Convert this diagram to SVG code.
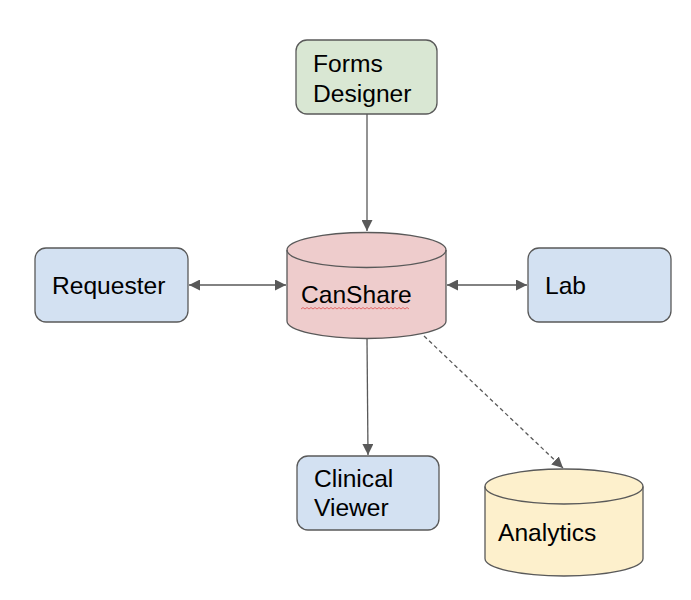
<svg xmlns="http://www.w3.org/2000/svg" width="691" height="600" viewBox="0 0 691 600">
<style>
.box{stroke:#595959;stroke-width:1.3}
.blue{fill:#d3e1f2}
.green{fill:#d9e7d3}
.pink{fill:#eecccc}
.yellow{fill:#fdf0cc}
.lbl{font-family:"Liberation Sans",Arial,sans-serif;font-size:24.6px;fill:#000}
.conn{stroke:#595959;stroke-width:1.3;fill:none}
</style>
<defs>
<marker id="ah" viewBox="0 0 10 10" refX="10" refY="5" markerWidth="11" markerHeight="11" markerUnits="userSpaceOnUse" orient="auto-start-reverse">
<path d="M0,0 L10,5 L0,10 Z" fill="#595959"/>
</marker>
</defs>
<rect width="691" height="600" fill="#fff"/>
<g id="connectors">
<line class="conn" x1="367" y1="114" x2="367" y2="231" marker-end="url(#ah)"/>
<line class="conn" x1="189" y1="285" x2="286" y2="285" marker-start="url(#ah)" marker-end="url(#ah)"/>
<line class="conn" x1="447" y1="285" x2="527" y2="285" marker-start="url(#ah)" marker-end="url(#ah)"/>
<line class="conn" x1="367" y1="339" x2="368" y2="455" marker-end="url(#ah)"/>
<line class="conn" x1="424" y1="336" x2="563" y2="468" stroke-dasharray="4,3" marker-end="url(#ah)"/>
</g>
<g id="forms-designer">
<rect class="box green" x="296" y="40" width="141" height="74" rx="11"/>
<text class="lbl" x="313" y="72">Forms</text>
<text class="lbl" x="313" y="102">Designer</text>
</g>
<g id="requester">
<rect class="box blue" x="35" y="248" width="153" height="74" rx="11"/>
<text class="lbl" x="52" y="294">Requester</text>
</g>
<g id="lab">
<rect class="box blue" x="528" y="248" width="143" height="74" rx="11"/>
<text class="lbl" x="545" y="294">Lab</text>
</g>
<g id="canshare">
<path class="box pink" d="M287,250 A79.5,17.5 0 0 1 446,250 L446,321 A79.5,17.5 0 0 1 287,321 Z"/>
<path class="box" fill="none" d="M287,250 A79.5,17.5 0 0 0 446,250"/>
<text class="lbl" x="301" y="303">CanShare</text>
<path d="M301,309 l2,-1.5 l2,1.5 l2,-1.5 l2,1.5 l2,-1.5 l2,1.5 l2,-1.5 l2,1.5 l2,-1.5 l2,1.5 l2,-1.5 l2,1.5 l2,-1.5 l2,1.5 l2,-1.5 l2,1.5 l2,-1.5 l2,1.5 l2,-1.5 l2,1.5 l2,-1.5 l2,1.5 l2,-1.5 l2,1.5 l2,-1.5 l2,1.5 l2,-1.5 l2,1.5 l2,-1.5 l2,1.5 l2,-1.5 l2,1.5 l2,-1.5 l2,1.5 l2,-1.5 l2,1.5 l2,-1.5 l2,1.5 l2,-1.5 l2,1.5 l2,-1.5 l2,1.5 l2,-1.5 l2,1.5 l2,-1.5 l2,1.5 l2,-1.5 l2,1.5 l2,-1.5 l2,1.5 l2,-1.5 l2,1.5 l2,-1.5 l2,1.5" fill="none" stroke="#e05050" stroke-width="0.8"/>
</g>
<g id="clinical-viewer">
<rect class="box blue" x="297" y="456" width="142" height="74" rx="11"/>
<text class="lbl" x="314" y="487">Clinical</text>
<text class="lbl" x="314" y="516">Viewer</text>
</g>
<g id="analytics">
<path class="box yellow" d="M485,486.5 A79,17.5 0 0 1 643,486.5 L643,558.5 A79,17.5 0 0 1 485,558.5 Z"/>
<path class="box" fill="none" d="M485,486.5 A79,17.5 0 0 0 643,486.5"/>
<text class="lbl" x="498" y="541">Analytics</text>
</g>
</svg>
